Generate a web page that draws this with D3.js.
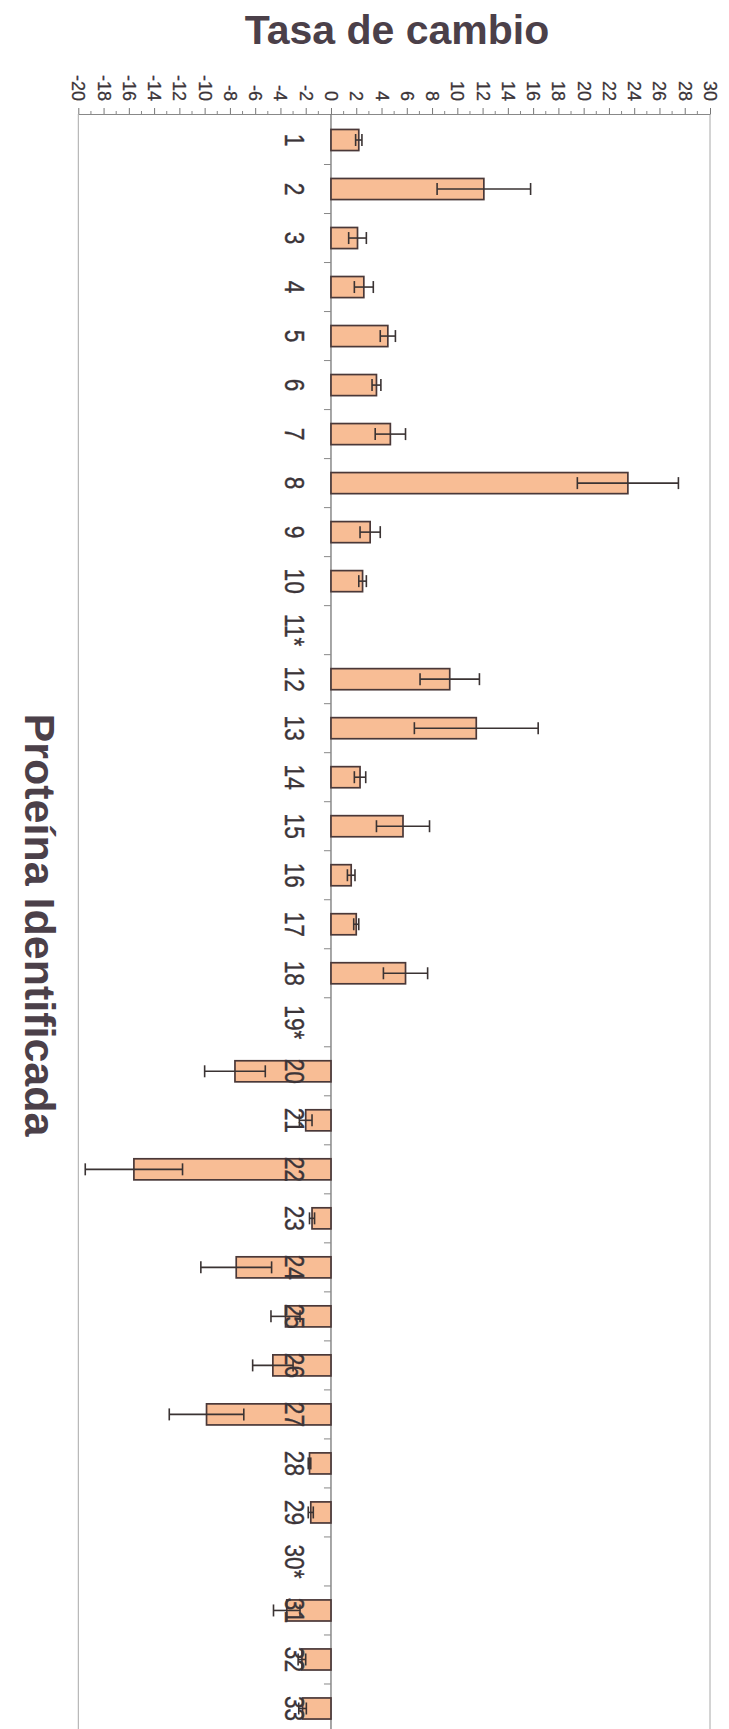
<!DOCTYPE html>
<html>
<head>
<meta charset="utf-8">
<script src="https://cdn.jsdelivr.net/npm/d3@7"></script>
<style>
  html, body { margin: 0; padding: 0; background: #fff; }
  svg { display: block; font-family: "Liberation Sans", Arial, sans-serif; }
</style>
</head>
<body>
<svg id="chart" width="729" height="1729"></svg>
<script>
// ---- data ----
const categories = ["1","2","3","4","5","6","7","8","9","10","11*","12","13","14","15","16","17","18","19*",
  "20","21","22","23","24","25","26","27","28","29","30*","31","32","33"];
const values = [2.2, 12.1, 2.1, 2.6, 4.5, 3.6, 4.7, 23.5, 3.1, 2.5, null, 9.4, 11.5, 2.3, 5.7, 1.6, 2.0, 5.9, null,
  -7.6, -2.0, -15.6, -1.5, -7.5, -3.6, -4.6, -9.85, -1.7, -1.6, null, -3.5, -2.3, -2.25];
const errors = [0.25, 3.7, 0.7, 0.75, 0.6, 0.35, 1.2, 4.0, 0.8, 0.3, null, 2.35, 4.9, 0.45, 2.1, 0.3, 0.2, 1.75, null,
  2.4, 0.5, 3.85, 0.2, 2.8, 1.15, 1.6, 2.95, 0.1, 0.2, null, 1.05, 0.3, 0.3];
const majorTicks = [-20,-18,-16,-14,-12,-10,-8,-6,-4,-2,0,2,4,6,8,10,12,14,16,18,20,22,24,26,28,30];
const minorTicks = [-19,-17,-15,-13,-11,-9,-7,-5,-3,-1,1,3,5,7,9,11,13,15,17,19,21,23,25,27,29];
const titleText = "Tasa de cambio";
const catTitle = "Proteína Identificada";

const rows = categories.map((c, i) => ({ cat: c, v: values[i], e: errors[i] }));

// ---- scales ----
const axisY = 114;
const x = d3.scaleLinear().domain([-20, 30]).range([78.3, 710]);
const y = d3.scaleBand().domain(categories).range([115.5, 1733]).paddingInner(0.57).paddingOuter(0.285);

const svg = d3.select("#chart");
const textCol = "#3b3438";

// title
svg.append("text")
  .attr("x", 397).attr("y", 44)
  .attr("text-anchor", "middle")
  .attr("font-size", 41).attr("font-weight", "bold")
  .attr("fill", "#4b4049")
  .text(titleText);

// category title (rotated, reading top to bottom)
svg.append("text")
  .attr("transform", "translate(25,925) rotate(90)")
  .attr("text-anchor", "middle")
  .attr("font-size", 43).attr("font-weight", "bold")
  .attr("fill", "#4b4049")
  .text(catTitle);

// frame borders
svg.append("line").attr("x1", x(-20)).attr("x2", x(-20)).attr("y1", axisY).attr("y2", 1729)
  .attr("stroke", "#a8a8a8").attr("stroke-width", 1);
svg.append("line").attr("x1", x(30)).attr("x2", x(30)).attr("y1", axisY).attr("y2", 1729)
  .attr("stroke", "#a8a8a8").attr("stroke-width", 1);

// value axis at top
const gx = svg.append("g").attr("transform", `translate(0,${axisY})`)
  .call(d3.axisTop(x).tickValues(majorTicks).tickSize(6).tickSizeOuter(0).tickFormat(d => String(d)));
gx.select(".domain").attr("stroke", "#888").attr("stroke-width", 1);
gx.selectAll(".tick line").attr("stroke", "#777");
gx.selectAll(".tick text")
  .attr("transform", "rotate(90)")
  .attr("x", -13).attr("y", 6.5).attr("dy", null)
  .attr("text-anchor", "end")
  .attr("font-size", 18)
  .attr("font-family", "\"Liberation Sans\", Arial, sans-serif")
  .attr("fill", textCol)
  .attr("stroke", textCol).attr("stroke-width", 0.3);
svg.append("g").selectAll("line").data(minorTicks).join("line")
  .attr("x1", d => x(d)).attr("x2", d => x(d))
  .attr("y1", axisY).attr("y2", axisY - 3)
  .attr("stroke", "#888").attr("stroke-width", 1);

// zero (category) axis line
svg.append("line").attr("x1", x(0)).attr("x2", x(0)).attr("y1", axisY).attr("y2", 1729)
  .attr("stroke", "#777").attr("stroke-width", 1.3);

// category boundary ticks
const step = y.step();
svg.append("g").selectAll("line").data(categories.slice(0, -1)).join("line")
  .attr("x1", x(0) - 7).attr("x2", x(0))
  .attr("y1", d => y(d) + y.bandwidth() + (step - y.bandwidth()) / 2)
  .attr("y2", d => y(d) + y.bandwidth() + (step - y.bandwidth()) / 2)
  .attr("stroke", "#888").attr("stroke-width", 1);

const withVal = rows.filter(r => r.v !== null);

// bars
svg.append("g").selectAll("rect").data(withVal).join("rect")
  .attr("x", d => Math.min(x(0), x(d.v)))
  .attr("y", d => y(d.cat))
  .attr("width", d => Math.abs(x(d.v) - x(0)))
  .attr("height", y.bandwidth())
  .attr("fill", "#f8bd95")
  .attr("stroke", "#4a3838").attr("stroke-width", 1.7);

// error bars
const eg = svg.append("g").attr("stroke", "#3a3333").attr("stroke-width", 1.6);
const capH = 6;
eg.selectAll("line.err").data(withVal).join("line").attr("class", "err")
  .attr("x1", d => x(d.v - d.e)).attr("x2", d => x(d.v + d.e))
  .attr("y1", d => y(d.cat) + y.bandwidth() / 2).attr("y2", d => y(d.cat) + y.bandwidth() / 2);
eg.selectAll("line.capLo").data(withVal).join("line").attr("class", "capLo")
  .attr("x1", d => x(d.v - d.e)).attr("x2", d => x(d.v - d.e))
  .attr("y1", d => y(d.cat) + y.bandwidth() / 2 - capH).attr("y2", d => y(d.cat) + y.bandwidth() / 2 + capH);
eg.selectAll("line.capHi").data(withVal).join("line").attr("class", "capHi")
  .attr("x1", d => x(d.v + d.e)).attr("x2", d => x(d.v + d.e))
  .attr("y1", d => y(d.cat) + y.bandwidth() / 2 - capH).attr("y2", d => y(d.cat) + y.bandwidth() / 2 + capH);

// category labels (rotated)
svg.append("g").selectAll("text").data(categories).join("text")
  .attr("transform", d => `translate(${x(0) - 46},${y(d) + y.bandwidth() / 2}) rotate(90) scale(0.84,1)`)
  .attr("text-anchor", "middle")
  .attr("font-size", 27)
  .attr("fill", textCol)
  .attr("stroke", textCol).attr("stroke-width", 0.4)
  .text(d => d);
</script>
</body>
</html>
